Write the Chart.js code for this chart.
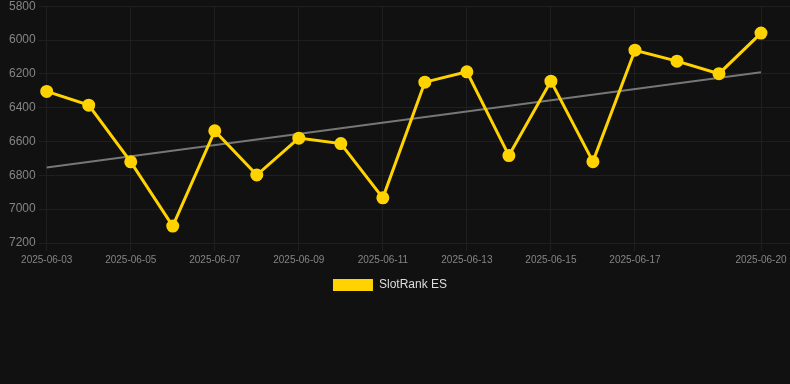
<!DOCTYPE html>
<html>
<head>
<meta charset="utf-8">
<script src="https://cdn.jsdelivr.net/npm/chart.js@4"></script>
<style>
  html, body { margin: 0; padding: 0; background: #111111; overflow: hidden; }
  #wrap { width: 790px; height: 299px; position: relative; margin-top: -4px; }
</style>
</head>
<body>
<div id="wrap"><canvas id="c"></canvas></div>
<script>
const dates = ["2025-06-03","2025-06-04","2025-06-05","2025-06-06","2025-06-07","2025-06-08","2025-06-09","2025-06-10","2025-06-11","2025-06-12","2025-06-13","2025-06-14","2025-06-15","2025-06-16","2025-06-17","2025-06-18","2025-06-19","2025-06-20"];
const rankValues = [6304, 6385, 6720, 7100, 6537, 6798, 6580, 6612, 6933, 6249, 6188, 6683, 6243, 6719, 6060, 6125, 6199, 5959];
const trendValues = [6753, null, null, null, null, null, null, null, null, null, null, null, null, null, null, null, null, 6191];
const shownTickIdx = [0, 2, 4, 6, 8, 10, 12, 14, 17];
const yTicks = { min: 5800, max: 7200, step: 200 };
const seriesName = "SlotRank ES";

const gridColor = '#1f1f1f';
const tickColor = '#858585';

const legendNudge = {
  id: 'legendNudge',
  afterLayout(chart) {
    const lg = chart.legend;
    if (!lg) return;
    lg.left -= 8; lg.right -= 8;
    lg.top += 6; lg.bottom += 6;
  }
};

new Chart(document.getElementById('c'), {
  type: 'line',
  data: {
    labels: dates,
    datasets: [
      {
        label: seriesName,
        data: rankValues,
        borderColor: '#FFD300',
        backgroundColor: '#FFD300',
        borderWidth: 3,
        pointRadius: 5,
        pointHoverRadius: 5,
        pointBackgroundColor: '#FFD300',
        pointBorderColor: '#FFD300',
        tension: 0,
        order: 1
      },
      {
        label: 'trend',
        data: trendValues,
        borderColor: '#777777',
        borderWidth: 2,
        pointRadius: 0,
        spanGaps: true,
        fill: false,
        order: 2
      }
    ]
  },
  plugins: [legendNudge],
  options: {
    responsive: true,
    maintainAspectRatio: false,
    animation: false,
    layout: { padding: { left: 6 } },
    plugins: {
      legend: {
        position: 'bottom',
        labels: {
          color: '#dddddd',
          boxWidth: 40,
          boxHeight: 12,
          padding: 4,
          font: { family: 'Liberation Sans, Arial, sans-serif', size: 12 },
          filter: (item) => item.datasetIndex === 0,
          generateLabels: (chart) => Chart.defaults.plugins.legend.labels.generateLabels(chart).map(l => Object.assign(l, { lineWidth: 0 }))
        }
      },
      tooltip: { enabled: false }
    },
    scales: {
      x: {
        grid: { color: gridColor },
        border: { display: false },
        ticks: {
          autoSkip: false,
          maxRotation: 0,
          color: tickColor,
          font: { family: 'Liberation Sans, Arial, sans-serif', size: 10 },
          callback: function(v, i) { return shownTickIdx.includes(i) ? dates[i] : null; }
        }
      },
      y: {
        reverse: true,
        min: yTicks.min,
        max: yTicks.max,
        grid: { color: gridColor },
        border: { display: false },
        ticks: {
          stepSize: yTicks.step,
          color: tickColor,
          font: { family: 'Liberation Sans, Arial, sans-serif', size: 12 },
          callback: (v) => String(v)
        }
      },
      y2: {
        position: 'right',
        reverse: true,
        min: yTicks.min,
        max: yTicks.max,
        grid: { color: gridColor, drawOnChartArea: false, drawTicks: true, tickLength: 29 },
        border: { display: false },
        ticks: { stepSize: yTicks.step, display: false }
      }
    }
  }
});
</script>
</body>
</html>
